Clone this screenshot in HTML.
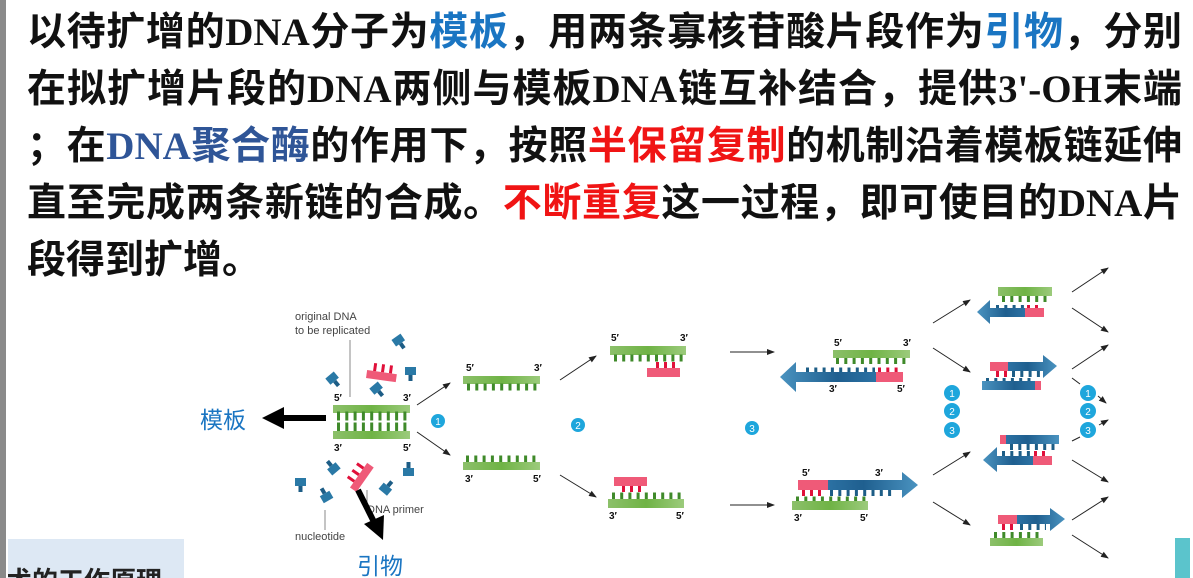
<!DOCTYPE html>
<html><head><meta charset="utf-8">
<style>
html,body{margin:0;padding:0;background:#fff;}
body{width:1193px;height:578px;position:relative;overflow:hidden;}
.lb{position:absolute;left:0;top:0;width:6px;height:578px;background:#8a8a8a;}
.t{position:absolute;left:27px;width:1155px;font-family:"Liberation Sans","Noto Sans CJK SC",sans-serif;font-weight:bold;font-size:39px;line-height:57px;color:#111;white-space:nowrap;text-align:justify;text-align-last:justify;}
.s{font-family:"Liberation Serif","Noto Sans CJK SC",serif;font-weight:bold;}
.b{color:#1a75c2;}
.d{color:#2f5597;}
.r{color:#f01414;}
.box{position:absolute;left:8px;top:539px;width:176px;height:39px;background:#dde8f4;overflow:hidden;}
.box span{position:absolute;left:-2px;top:22px;font-family:"Liberation Sans","Noto Sans CJK SC",sans-serif;font-weight:bold;font-size:26px;color:#222;white-space:nowrap;}
.teal{position:absolute;left:1175px;top:538px;width:15px;height:40px;background:#5bc4cc;}
svg{position:absolute;left:0;top:0;}
</style></head><body>
<div class="lb"></div>
<div class="t" style="top:4px">以待扩增的<span class="s">DNA</span>分子为<span class="b">模板</span>，用两条寡核苷酸片段作为<span class="b">引物</span>，分别</div>
<div class="t" style="top:61px">在拟扩增片段的<span class="s">DNA</span>两侧与模板<span class="s">DNA</span>链互补结合，提供<span class="s">3'-OH</span>末端</div>
<div class="t" style="top:118px">；在<span class="d"><span class="s">DNA</span>聚合酶</span>的作用下，按照<span class="r">半保留复制</span>的机制沿着模板链延伸</div>
<div class="t" style="top:175px">直至完成两条新链的合成。<span class="r">不断重复</span>这一过程，即可使目的<span class="s">DNA</span>片</div>
<div class="t" style="top:232px;text-align-last:left;">段得到扩增。</div>

<svg width="1193" height="578" viewBox="0 0 1193 578" font-family="Liberation Sans, sans-serif">
<defs>
<linearGradient id="g" x1="0" x2="1"><stop offset="0" stop-color="#8cc06a"/><stop offset="0.5" stop-color="#6fb345"/><stop offset="1" stop-color="#9ccb7c"/></linearGradient>
<linearGradient id="bl" x1="0" x2="1"><stop offset="0" stop-color="#4a93c0"/><stop offset="0.6" stop-color="#1f5f8f"/><stop offset="1" stop-color="#2c72a4"/></linearGradient>
<linearGradient id="br" x1="1" x2="0"><stop offset="0" stop-color="#4a93c0"/><stop offset="0.6" stop-color="#1f5f8f"/><stop offset="1" stop-color="#2c72a4"/></linearGradient>
<marker id="ah" markerWidth="8" markerHeight="8" refX="7" refY="4" orient="auto" markerUnits="userSpaceOnUse"><path d="M0,1 L8,4 L0,7z" fill="#222"/></marker>
<g id="nuc"><rect x="-5" y="-6" width="11" height="8" fill="#2a79a6"/><rect x="-1.5" y="2" width="4" height="6" fill="#1d5d86"/></g>
</defs>
<g font-size="10" font-weight="bold" fill="#111">
<text x="295" y="320" font-size="11" font-weight="normal" fill="#444">original DNA</text>
<text x="295" y="334" font-size="11" font-weight="normal" fill="#444">to be replicated</text>
<line x1="350" y1="340" x2="350" y2="397" stroke="#888" stroke-width="1"/>
<text x="367" y="513" font-size="11" font-weight="normal" fill="#444">DNA primer</text>
<line x1="367" y1="490" x2="367" y2="503" stroke="#888"/>
<text x="295" y="540" font-size="11" font-weight="normal" fill="#444">nucleotide</text>
<line x1="325" y1="510" x2="325" y2="530" stroke="#888"/>

<rect x="333" y="405" width="77" height="8" fill="url(#g)"/>
<line x1="337" y1="416" x2="410" y2="416" stroke="#3f8a2a" stroke-width="9" stroke-dasharray="3 5.3"/>
<line x1="337" y1="427" x2="410" y2="427" stroke="#3f8a2a" stroke-width="9" stroke-dasharray="3 5.3"/>
<rect x="333" y="431" width="77" height="8" fill="url(#g)"/>
<text x="334" y="401">5′</text><text x="403" y="401">3′</text>
<text x="334" y="451">3′</text><text x="403" y="451">5′</text>

<use href="#nuc" transform="translate(399,342) rotate(-35)"/>
<use href="#nuc" transform="translate(410,373)"/>
<use href="#nuc" transform="translate(333,380) rotate(-40)"/>
<use href="#nuc" transform="translate(377,390) rotate(-40)"/>
<use href="#nuc" transform="translate(333,467) rotate(140)"/>
<use href="#nuc" transform="translate(300,484)"/>
<use href="#nuc" transform="translate(326,495) rotate(150)"/>
<use href="#nuc" transform="translate(409,470) rotate(180)"/>
<use href="#nuc" transform="translate(387,488) rotate(-140)"/>
<g transform="translate(381,372) rotate(8)"><rect x="-14" y="0" width="30" height="8" fill="#ef5a78"/><line x1="-8" y1="-4" x2="12" y2="-4" stroke="#e0103a" stroke-width="8" stroke-dasharray="3 5"/></g>
<g transform="translate(358,476) rotate(-55)"><rect x="-14" y="0" width="30" height="8" fill="#ef5a78"/><line x1="-8" y1="-4" x2="12" y2="-4" stroke="#e0103a" stroke-width="8" stroke-dasharray="3 5"/></g>

<line x1="326" y1="418" x2="282" y2="418" stroke="#000" stroke-width="6"/>
<path d="M262,418 L284,407 L284,429z" fill="#000"/>
<line x1="358" y1="490" x2="374" y2="522" stroke="#000" stroke-width="6"/>
<path d="M383,540 L364,524 L384,515z" fill="#000"/>
<text x="200" y="428" font-size="23" font-weight="normal" fill="#1a75c2" font-family="Liberation Sans, Noto Sans CJK SC, sans-serif">模板</text>
<text x="357" y="574" font-size="23" font-weight="normal" fill="#1a75c2" font-family="Liberation Sans, Noto Sans CJK SC, sans-serif">引物</text>

<g stroke="#222" stroke-width="1" marker-end="url(#ah)">
<line x1="417" y1="405" x2="450" y2="383"/>
<line x1="417" y1="432" x2="450" y2="455"/>
<line x1="560" y1="380" x2="596" y2="356"/>
<line x1="560" y1="475" x2="596" y2="497"/>
<line x1="730" y1="352" x2="774" y2="352"/>
<line x1="730" y1="505" x2="774" y2="505"/>
<line x1="933" y1="323" x2="970" y2="300"/>
<line x1="933" y1="348" x2="970" y2="372"/>
<line x1="933" y1="475" x2="970" y2="452"/>
<line x1="933" y1="502" x2="970" y2="525"/>
<line x1="1072" y1="292" x2="1108" y2="268"/>
<line x1="1072" y1="308" x2="1108" y2="332"/>
<line x1="1072" y1="369" x2="1108" y2="345"/>
<line x1="1098" y1="396" x2="1106" y2="403"/>
<line x1="1099" y1="425" x2="1108" y2="420"/>
<line x1="1072" y1="460" x2="1108" y2="482"/>
<line x1="1072" y1="520" x2="1108" y2="497"/>
<line x1="1072" y1="535" x2="1108" y2="558"/>
</g>
<line x1="1072" y1="378" x2="1080" y2="384" stroke="#222"/>
<line x1="1072" y1="441" x2="1080" y2="437" stroke="#222"/>

<g font-size="10" font-weight="normal" fill="#fff" text-anchor="middle">
<circle cx="438" cy="421" r="7" fill="#1ea6dc"/><text x="438" y="425" fill="#fff">1</text>
<circle cx="578" cy="425" r="7" fill="#1ea6dc"/><text x="578" y="429" fill="#fff">2</text>
<circle cx="752" cy="428" r="7" fill="#1ea6dc"/><text x="752" y="432" fill="#fff">3</text>
<circle cx="952" cy="393" r="8" fill="#1ea6dc"/><text x="952" y="397" fill="#fff">1</text>
<circle cx="952" cy="411" r="8" fill="#1ea6dc"/><text x="952" y="415" fill="#fff">2</text>
<circle cx="952" cy="430" r="8" fill="#1ea6dc"/><text x="952" y="434" fill="#fff">3</text>
<circle cx="1088" cy="393" r="8" fill="#1ea6dc"/><text x="1088" y="397" fill="#fff">1</text>
<circle cx="1088" cy="411" r="8" fill="#1ea6dc"/><text x="1088" y="415" fill="#fff">2</text>
<circle cx="1088" cy="430" r="8" fill="#1ea6dc"/><text x="1088" y="434" fill="#fff">3</text>
</g>

<rect x="463" y="376" width="77" height="8" fill="url(#g)"/>
<line x1="467" y1="387" x2="540" y2="387" stroke="#3f8a2a" stroke-width="7" stroke-dasharray="3 5.3"/>
<text x="466" y="371">5′</text><text x="534" y="371">3′</text>
<line x1="466" y1="459" x2="540" y2="459" stroke="#3f8a2a" stroke-width="7" stroke-dasharray="3 5.3"/>
<rect x="463" y="462" width="77" height="8" fill="url(#g)"/>
<text x="465" y="482">3′</text><text x="533" y="482">5′</text>

<rect x="610" y="346" width="76" height="9" fill="url(#g)"/>
<line x1="614" y1="358" x2="686" y2="358" stroke="#3f8a2a" stroke-width="7" stroke-dasharray="3 5.2"/>
<line x1="656" y1="365" x2="675" y2="365" stroke="#e0103a" stroke-width="6" stroke-dasharray="3 5"/>
<rect x="647" y="368" width="33" height="9" fill="#ef5a78"/>
<text x="611" y="341">5′</text><text x="680" y="341">3′</text>
<rect x="614" y="477" width="33" height="9" fill="#ef5a78"/>
<line x1="622" y1="489" x2="642" y2="489" stroke="#e0103a" stroke-width="6" stroke-dasharray="3 5"/>
<line x1="612" y1="496" x2="684" y2="496" stroke="#3f8a2a" stroke-width="7" stroke-dasharray="3 5.2"/>
<rect x="608" y="499" width="76" height="9" fill="url(#g)"/>
<text x="609" y="519">3′</text><text x="676" y="519">5′</text>

<rect x="833" y="350" width="77" height="8" fill="url(#g)"/>
<line x1="836" y1="361" x2="910" y2="361" stroke="#3f8a2a" stroke-width="6" stroke-dasharray="3 5.3"/>
<line x1="806" y1="370" x2="875" y2="370" stroke="#1d5d86" stroke-width="5" stroke-dasharray="3 5.3"/>
<line x1="878" y1="370" x2="900" y2="370" stroke="#e0103a" stroke-width="5" stroke-dasharray="3 5.3"/>
<path d="M780,377 L796,362 L796,372 L876,372 L876,382 L796,382 L796,392z" fill="url(#bl)"/>
<rect x="876" y="372" width="27" height="10" fill="#ef5a78"/>
<text x="834" y="346">5′</text><text x="903" y="346">3′</text>
<text x="829" y="392">3′</text><text x="897" y="392">5′</text>

<path d="M827,480 L902,480 L902,472 L918,485 L902,498 L902,490 L827,490z" fill="url(#br)"/>
<rect x="798" y="480" width="30" height="10" fill="#ef5a78"/>
<line x1="802" y1="493" x2="825" y2="493" stroke="#e0103a" stroke-width="6" stroke-dasharray="3 5"/>
<line x1="830" y1="493" x2="896" y2="493" stroke="#1d5d86" stroke-width="6" stroke-dasharray="3 5.3"/>
<line x1="796" y1="499" x2="866" y2="499" stroke="#3f8a2a" stroke-width="5" stroke-dasharray="3 5.3"/>
<rect x="792" y="501" width="76" height="9" fill="url(#g)"/>
<text x="802" y="476">5′</text><text x="875" y="476">3′</text>
<text x="794" y="521">3′</text><text x="860" y="521">5′</text>

<rect x="998" y="287" width="54" height="9" fill="url(#g)"/>
<line x1="1002" y1="299" x2="1050" y2="299" stroke="#3f8a2a" stroke-width="6" stroke-dasharray="3 5.3"/>
<line x1="996" y1="308" x2="1024" y2="308" stroke="#1d5d86" stroke-width="6" stroke-dasharray="3 5.3"/>
<line x1="1027" y1="308" x2="1040" y2="308" stroke="#e0103a" stroke-width="6" stroke-dasharray="3 5"/>
<path d="M977,312 L990,300 L990,308 L1025,308 L1025,317 L990,317 L990,324z" fill="url(#bl)"/>
<rect x="1025" y="308" width="19" height="9" fill="#ef5a78"/>

<rect x="990" y="362" width="19" height="9" fill="#ef5a78"/>
<path d="M1008,362 L1043,362 L1043,355 L1057,366 L1043,378 L1043,371 L1008,371z" fill="url(#br)"/>
<line x1="996" y1="374" x2="1008" y2="374" stroke="#e0103a" stroke-width="6" stroke-dasharray="3 5"/>
<line x1="1012" y1="374" x2="1040" y2="374" stroke="#1d5d86" stroke-width="6" stroke-dasharray="3 5.3"/>
<line x1="986" y1="381" x2="1032" y2="381" stroke="#1d5d86" stroke-width="6" stroke-dasharray="3 5.3"/>
<rect x="982" y="381" width="54" height="9" fill="url(#bl)"/>
<rect x="1035" y="381" width="6" height="9" fill="#ef5a78"/>

<rect x="1000" y="435" width="6" height="9" fill="#ef5a78"/>
<rect x="1006" y="435" width="53" height="9" fill="url(#br)"/>
<line x1="1010" y1="447" x2="1056" y2="447" stroke="#1d5d86" stroke-width="6" stroke-dasharray="3 5.3"/>
<line x1="1002" y1="454" x2="1032" y2="454" stroke="#1d5d86" stroke-width="6" stroke-dasharray="3 5.3"/>
<line x1="1034" y1="454" x2="1048" y2="454" stroke="#e0103a" stroke-width="6" stroke-dasharray="3 5"/>
<path d="M983,460 L997,447 L997,456 L1033,456 L1033,465 L997,465 L997,472z" fill="url(#bl)"/>
<rect x="1033" y="456" width="19" height="9" fill="#ef5a78"/>

<rect x="998" y="515" width="20" height="9" fill="#ef5a78"/>
<path d="M1017,515 L1050,515 L1050,508 L1065,519 L1050,531 L1050,524 L1017,524z" fill="url(#br)"/>
<line x1="1002" y1="527" x2="1016" y2="527" stroke="#e0103a" stroke-width="6" stroke-dasharray="3 5"/>
<line x1="1020" y1="527" x2="1046" y2="527" stroke="#1d5d86" stroke-width="6" stroke-dasharray="3 5.3"/>
<line x1="994" y1="535" x2="1042" y2="535" stroke="#3f8a2a" stroke-width="6" stroke-dasharray="3 5.3"/>
<rect x="990" y="538" width="53" height="8" fill="url(#g)"/>
</g>
</svg>
<div class="box"><span>术的工作原理</span></div>
<div class="teal"></div>
</body></html>
